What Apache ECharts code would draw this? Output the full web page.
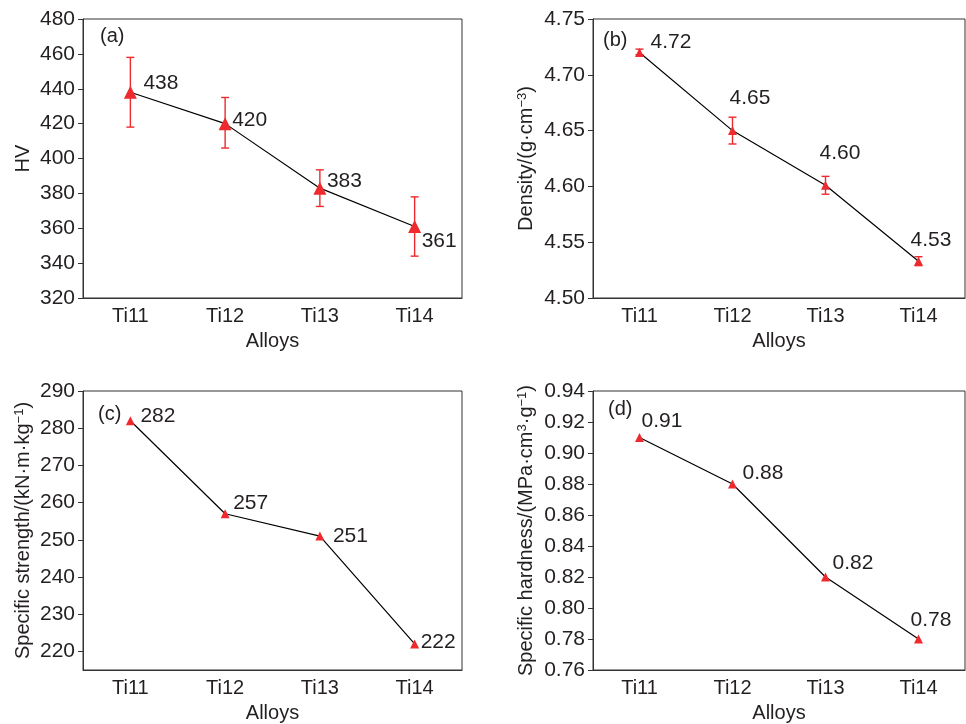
<!DOCTYPE html>
<html>
<head>
<meta charset="utf-8">
<title>Ti11-Ti14 alloys</title>
<script src="https://cdn.jsdelivr.net/npm/echarts@6/dist/echarts.min.js"></script>
<style>
  html, body { margin: 0; padding: 0; background: #fff; }
  #chart { width: 966px; height: 724px; }
</style>
</head>
<body>
<div id="chart"></div>
<script>
const alloys = ['Ti11', 'Ti12', 'Ti13', 'Ti14'];

// (a) hardness HV with error bars
const hardness = [438, 420, 383, 361];
const hardnessLow = [418, 406, 372.5, 344];
const hardnessHigh = [458, 435, 393.5, 378];
const hardnessTicks = [320, 340, 360, 380, 400, 420, 440, 460, 480];

// (b) density with error bars
const density = [4.72, 4.65, 4.601, 4.533];
const densityLow = [4.718, 4.638, 4.593, 4.529];
const densityHigh = [4.723, 4.662, 4.609, 4.537];
const densityTicks = [4.50, 4.55, 4.60, 4.65, 4.70, 4.75];

// (c) specific strength
const specStrength = [282, 257, 251, 222];
const specStrengthTicks = [220, 230, 240, 250, 260, 270, 280, 290];

// (d) specific hardness
const specHardness = [0.91, 0.88, 0.82, 0.78];
const specHardnessTicks = [0.76, 0.78, 0.80, 0.82, 0.84, 0.86, 0.88, 0.90, 0.92, 0.94];

const FONT = '"Liberation Sans", Arial, Helvetica, sans-serif';
const TEXT = '#231f20';
const AXIS = '#333';
const RED = '#ee2a2e';

const nameRich = {
  t: { fontSize: 20, color: TEXT, fontFamily: FONT },
  s: { fontSize: 13, color: TEXT, fontFamily: FONT, verticalAlign: 'top' }
};

const panels = [
  {
    tag: '(a)', tagPos: [100, 36],
    grid: { left: 83, top: 19, width: 379, height: 279 },
    yName: 'HV', nameGap: 50,
    min: 320, max: 480, ticks: hardnessTicks, digits: 0,
    values: hardness, low: hardnessLow, high: hardnessHigh,
    symbolSize: 13,
    labelOffsets: [[13, -9], [7, -3], [7, -7], [7, 15]]
  },
  {
    tag: '(b)', tagPos: [603, 40],
    grid: { left: 593, top: 19, width: 372, height: 279 },
    yName: '{t|Density/(g·cm}{s|−3}{t|)}', nameGap: 57,
    min: 4.5, max: 4.75, ticks: densityTicks, digits: 2,
    values: density, low: densityLow, high: densityHigh,
    symbolSize: 9,
    labelOffsets: [[11, -10], [-3, -32], [-6, -32], [-8, -21]]
  },
  {
    tag: '(c)', tagPos: [98, 414],
    grid: { left: 83, top: 391, width: 379, height: 280 },
    yName: '{t|Specific strength/(kN·m·kg}{s|−1}{t|)}', nameGap: 50,
    min: 215, max: 290, ticks: specStrengthTicks, digits: 0,
    values: specStrength,
    symbolSize: 9,
    labelOffsets: [[10, -5], [8, -11], [13, 0], [6, -2]]
  },
  {
    tag: '(d)', tagPos: [608, 409],
    grid: { left: 593, top: 391, width: 372, height: 280 },
    yName: '{t|Specific hardness/(MPa·cm}{s|3}{t|·g}{s|−1}{t|)}', nameGap: 57,
    min: 0.76, max: 0.94, ticks: specHardnessTicks, digits: 2,
    values: specHardness,
    symbolSize: 9,
    labelOffsets: [[2, -16], [10, -11], [7, -14], [-8, -19]]
  }
];

// vertical error bar with caps
function renderErrorBar(params, api) {
  const idx = api.value(0);
  const lo = api.coord([idx, api.value(1)]);
  const hi = api.coord([idx, api.value(2)]);
  const cap = 4;
  const style = { stroke: RED, lineWidth: 1.4 };
  return {
    type: 'group',
    children: [
      { type: 'line', shape: { x1: lo[0], y1: lo[1], x2: hi[0], y2: hi[1] }, style },
      { type: 'line', shape: { x1: lo[0] - cap, y1: lo[1], x2: lo[0] + cap, y2: lo[1] }, style },
      { type: 'line', shape: { x1: hi[0] - cap, y1: hi[1], x2: hi[0] + cap, y2: hi[1] }, style }
    ]
  };
}

const grid = [];
const xAxis = [];
const yAxis = [];
const series = [];
const graphic = [];

panels.forEach((p, i) => {
  grid.push(Object.assign({ show: true, borderColor: AXIS, borderWidth: 1 }, p.grid));

  xAxis.push({
    type: 'category',
    gridIndex: i,
    data: alloys,
    boundaryGap: true,
    name: 'Alloys',
    nameLocation: 'middle',
    nameGap: 33,
    nameTextStyle: { fontSize: 20, color: TEXT, fontFamily: FONT },
    axisLine: { lineStyle: { color: AXIS, width: 1 } },
    axisTick: { alignWithLabel: true, length: 5, lineStyle: { color: AXIS } },
    axisLabel: { fontSize: 20, color: TEXT, fontFamily: FONT, margin: 8 },
    splitLine: { show: false }
  });

  yAxis.push({
    type: 'value',
    gridIndex: i,
    min: p.min,
    max: p.max,
    name: p.yName,
    nameLocation: 'middle',
    nameGap: p.nameGap,
    nameTextStyle: { fontSize: 20, color: TEXT, fontFamily: FONT, rich: nameRich },
    axisLine: { show: true, lineStyle: { color: AXIS, width: 1 } },
    axisTick: { show: true, length: 5, customValues: p.ticks, lineStyle: { color: AXIS } },
    axisLabel: {
      fontSize: 21, color: TEXT, fontFamily: FONT, margin: 8,
      customValues: p.ticks,
      formatter: (v) => Number(v).toFixed(p.digits)
    },
    splitLine: { show: false }
  });

  if (p.low) {
    series.push({
      type: 'custom',
      xAxisIndex: i,
      yAxisIndex: i,
      renderItem: renderErrorBar,
      data: p.low.map((lo, k) => [k, lo, p.high[k]]),
      encode: { x: 0, y: [1, 2] },
      z: 2,
      silent: true
    });
  }

  series.push({
    type: 'line',
    xAxisIndex: i,
    yAxisIndex: i,
    data: p.values.map((v, k) => ({ value: v, label: { offset: p.labelOffsets[k] } })),
    symbol: 'triangle',
    symbolSize: p.symbolSize,
    showAllSymbol: true,
    itemStyle: { color: RED },
    lineStyle: { color: '#000', width: 1.2 },
    label: {
      show: true,
      position: 'inside',
      align: 'left',
      verticalAlign: 'middle',
      fontSize: 21,
      color: TEXT,
      fontFamily: FONT,
      formatter: (d) => Number(d.value).toFixed(p.digits)
    },
    z: 3
  });

  graphic.push({
    type: 'text',
    x: p.tagPos[0],
    y: p.tagPos[1],
    style: { text: p.tag, fontSize: 20, fontFamily: FONT, fill: TEXT, verticalAlign: 'middle' }
  });
});

const chart = echarts.init(document.getElementById('chart'));
chart.setOption({
  animation: false,
  backgroundColor: '#fff',
  grid,
  xAxis,
  yAxis,
  series,
  graphic
});
</script>
</body>
</html>
